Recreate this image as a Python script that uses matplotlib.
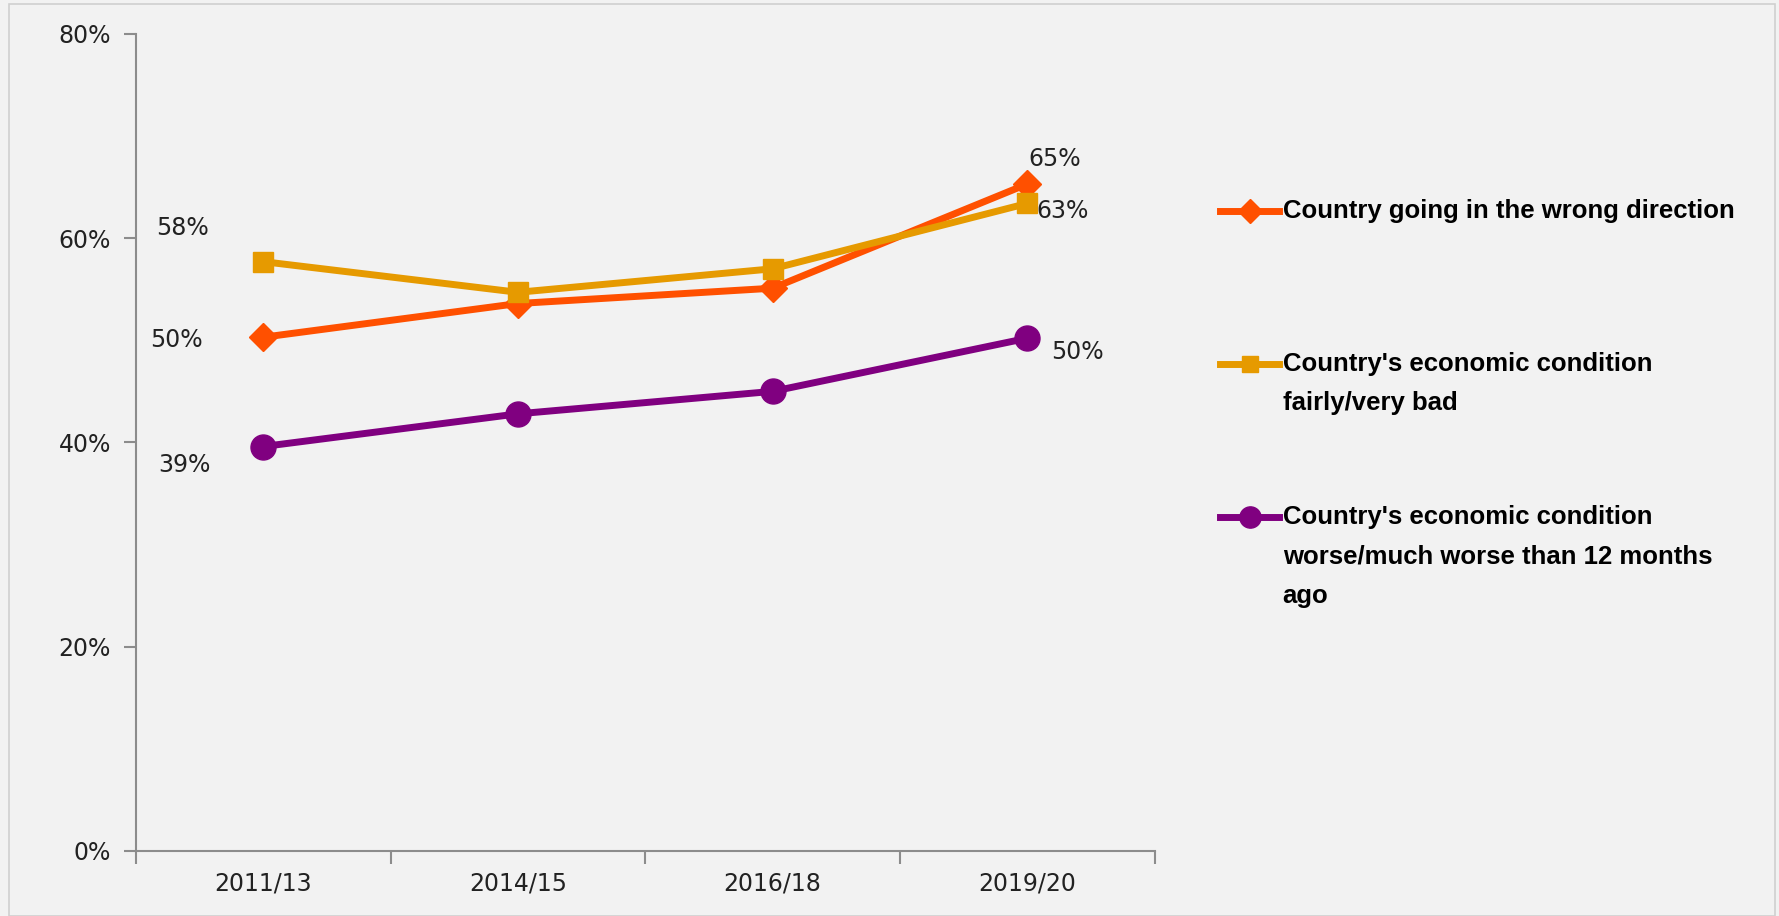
import numpy as np
import matplotlib.pyplot as plt
from matplotlib.lines import Line2D


# chart data
periods = ["2011/13", "2014/15", "2016/18", "2019/20"]
wrong_direction = [50.3, 53.6, 55.1, 65.3]
econ_bad = [57.7, 54.7, 57.0, 63.4]
econ_worse = [39.6, 42.8, 45.0, 50.2]

legend_labels = [
    "Country going in the wrong direction",
    "Country's economic condition\nfairly/very bad",
    "Country's economic condition\nworse/much worse than 12 months\nago",
]
first_labels = ["50%", "58%", "39%"]
last_labels = ["65%", "63%", "50%"]

colors = ["#FF5000", "#E69A00", "#800080"]
markers = ["D", "s", "o"]
msizes = [14, 14, 18]

# offsets (pixels) of the value labels from the points
first_off = [(-87, -3), (-81, 34), (-79, -18)]
last_off = [(27, 25), (35, -8), (50, -14)]

bg = "#f2f2f2"
fig = plt.figure(figsize=(17.79, 9.16), dpi=100, facecolor=bg)
ax = fig.add_axes([0.0764, 0.071, 0.5726, 0.892])
ax.set_facecolor(bg)

# frame around the slide
fig.add_artist(plt.Rectangle((0.005, 0.0), 0.993, 0.996, transform=fig.transFigure,
                             fill=False, edgecolor="#d0d0d0", linewidth=1.2))

x = np.arange(len(periods))
series = [wrong_direction, econ_bad, econ_worse]
for vals, c, m, ms, fl, ll, fo, lo in zip(series, colors, markers, msizes,
                                          first_labels, last_labels, first_off, last_off):
    ax.plot(x, vals, color=c, linewidth=5, marker=m, markersize=ms,
            markeredgecolor=c, zorder=3)
    ax.annotate(fl, (x[0], vals[0]), xytext=fo, textcoords="offset pixels",
                ha="center", va="center", fontsize=17, color="#222222")
    ax.annotate(ll, (x[-1], vals[-1]), xytext=lo, textcoords="offset pixels",
                ha="center", va="center", fontsize=17, color="#222222")

ax.set_xlim(-0.5, 3.5)
ax.set_ylim(0, 80)
ax.set_yticks([0, 20, 40, 60, 80])
ax.set_yticklabels(["0%", "20%", "40%", "60%", "80%"])
ax.set_xticks(x)
ax.set_xticklabels(periods)
ax.set_xticks(np.arange(-0.5, 4, 1), minor=True)

for s in ["top", "right"]:
    ax.spines[s].set_visible(False)
for s in ["left", "bottom"]:
    ax.spines[s].set_color("#8c8c8c")
    ax.spines[s].set_linewidth(1.5)

ax.tick_params(axis="y", length=9, width=1.5, color="#8c8c8c", labelsize=17,
               labelcolor="#222222", pad=9)
ax.tick_params(axis="x", which="major", length=0, labelsize=17,
               labelcolor="#222222", pad=15)
ax.tick_params(axis="x", which="minor", length=9, width=1.5, color="#8c8c8c")

# legend drawn by hand so the markers line up with the first text line
leg_y = [0.770, 0.603, 0.436]
for lab, c, m, ms, ly in zip(legend_labels, colors, markers, msizes, leg_y):
    fig.add_artist(Line2D([0.686, 0.719], [ly, ly], transform=fig.transFigure,
                          color=c, linewidth=5))
    fig.add_artist(Line2D([0.7025], [ly], transform=fig.transFigure, color=c,
                          marker=m, markersize=ms * 0.85, markeredgecolor=c))
    fig.text(0.721, ly + 0.0125, lab, ha="left", va="top", fontsize=18.5,
             fontweight="bold", family="Liberation Sans", color="black",
             linespacing=1.8)

fig.savefig("out.png", dpi=100, facecolor=bg)
